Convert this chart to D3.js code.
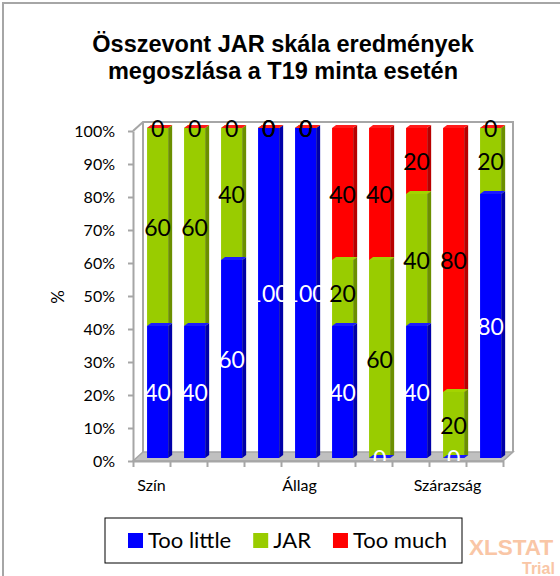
<!DOCTYPE html>
<html>
<head>
<meta charset="utf-8">
<script src="https://cdn.jsdelivr.net/npm/d3@7"></script>
<style>
  body { margin: 0; background: #fff; }
</style>
</head>
<body>
<div id="chart"></div>
<script>
// data
var tickLabels = ["Szín", "", "", "", "Állag", "", "", "", "Szárazság", ""];
var seriesNames = ["Too little", "JAR", "Too much"];
var tooLittle = [40, 40, 60, 100, 100, 40, 0, 40, 0, 80];
var jar = [60, 60, 40, 0, 0, 20, 60, 40, 20, 20];
var tooMuch = [0, 0, 0, 0, 0, 40, 40, 20, 80, 0];
var yTicks = [0, 10, 20, 30, 40, 50, 60, 70, 80, 90, 100];

var colors = {
  "Too little": { front: "#0000ff", side: "#0000a8", top: "#1a1aff", label: "#ffffff" },
  "JAR": { front: "#99cc00", side: "#6b8f00", top: "#a3d400", label: "#000000" },
  "Too much": { front: "#ff0000", side: "#b80000", top: "#ff1a1a", label: "#000000" }
};

var svgWidth = 560;
var svgHeight = 576;
var font = "Lato, 'Open Sans', sans-serif";

var svg = d3.select("#chart")
  .append("svg")
  .attr("width", svgWidth)
  .attr("height", svgHeight);

// chart frame (runs off the right and bottom edges)
svg.append("rect")
  .attr("x", 3).attr("y", 3)
  .attr("width", 640).attr("height", 640)
  .attr("fill", "none")
  .attr("stroke", "#a6a6a6")
  .attr("stroke-width", 2);

// title
var title = svg.append("text")
  .attr("text-anchor", "middle")
  .style("font-family", "'Liberation Sans', Arial, sans-serif")
  .style("font-weight", "bold")
  .style("font-size", "23.5px");
title.append("tspan").attr("x", 283).attr("y", 52).text("Összevont JAR skála eredmények");
title.append("tspan").attr("x", 283).attr("y", 79).text("megoszlása a T19 minta esetén");

// scales
var x = d3.scaleBand().domain(d3.range(tickLabels.length)).range([133, 503]);
var xEdge = d3.scaleLinear().domain([0, tickLabels.length]).range([133, 503]);
var y = d3.scaleLinear().domain([0, 100]).range([461, 131]);

var dx = 10, dy = 9;   // wall depth
var x0 = x.range()[0], x1 = x.range()[1];

// 3d walls + floor
var walls = svg.append("g");
walls.append("polygon")
  .attr("points", [[x0, y(0)], [x1, y(0)], [x1 + dx, y(0) - dy], [x0 + dx, y(0) - dy]].join(" "))
  .attr("fill", "#c0c0c0")
  .attr("stroke", "#a6a6a6")
  .attr("stroke-width", 1.5);
walls.append("path")
  .attr("d", "M" + x0 + "," + y(100) + "L" + (x0 + dx) + "," + (y(100) - dy) +
    "H" + (x1 + dx) + "V" + (y(0) - dy) +
    "M" + (x0 + dx) + "," + (y(100) - dy) + "V" + (y(0) - dy))
  .attr("fill", "none")
  .attr("stroke", "#a6a6a6")
  .attr("stroke-width", 2);

// y axis
var yAxis = svg.append("g")
  .attr("transform", "translate(" + x0 + ",0)")
  .call(d3.axisLeft(y).tickValues(yTicks).tickFormat(d => d + "%").tickSize(5).tickSizeOuter(0).tickPadding(13));
yAxis.select(".domain").attr("stroke", "#a6a6a6").attr("stroke-width", 2);
yAxis.selectAll(".tick line").attr("stroke", "#a6a6a6").attr("stroke-width", 2);
yAxis.selectAll("text").style("font-family", font).style("font-size", "16px").attr("fill", "#000");

// x axis: tick marks on band edges, labels on band centers
var xTicks = svg.append("g")
  .attr("transform", "translate(0," + y(0) + ")")
  .call(d3.axisBottom(xEdge).tickValues(d3.range(tickLabels.length + 1)).tickFormat("").tickSize(6).tickSizeOuter(0));
xTicks.select(".domain").attr("stroke", "#a6a6a6").attr("stroke-width", 2);
xTicks.selectAll(".tick line").attr("stroke", "#a6a6a6").attr("stroke-width", 2);

var xAxis = svg.append("g")
  .attr("transform", "translate(0," + y(0) + ")")
  .call(d3.axisBottom(x).tickFormat(i => tickLabels[i]).tickSize(0).tickPadding(19));
xAxis.select(".domain").remove();
xAxis.selectAll("text").style("font-family", font).style("font-size", "16px").attr("fill", "#000");

// y axis title
svg.append("text")
  .attr("transform", "translate(57,297) rotate(-90)")
  .attr("text-anchor", "middle")
  .attr("dominant-baseline", "central")
  .style("font-family", font)
  .style("font-size", "17px")
  .text("%");

// stacked data
var rows = tickLabels.map(function(t, i) {
  return { idx: i, "Too little": tooLittle[i], "JAR": jar[i], "Too much": tooMuch[i] };
});
var stacked = d3.stack().keys(seriesNames)(rows);

var bw = x.bandwidth();
var barW = bw * 0.57;
var bd = 4, bdy = 3;        // bar depth
function barX(i) { return x(i) + bw * 0.38; }
function yb(v) { return y(v) - 3; }

var clip = svg.append("clipPath").attr("id", "plotclip");
clip.append("rect").attr("x", 0).attr("y", 0).attr("width", svgWidth).attr("height", y(0));

var bars = svg.append("g");
var tops = svg.append("g");

stacked.forEach(function(layer) {
  var c = colors[layer.key];
  var g = bars.append("g");
  g.selectAll("rect")
    .data(layer)
    .enter()
    .append("rect")
    .attr("x", d => barX(d.data.idx))
    .attr("y", d => yb(d[1]))
    .attr("width", barW)
    .attr("height", d => yb(d[0]) - yb(d[1]))
    .attr("fill", c.front);
  g.selectAll("polygon")
    .data(layer)
    .enter()
    .append("polygon")
    .attr("points", function(d) {
      var bx = barX(d.data.idx) + barW;
      return [[bx, yb(d[1])], [bx + bd, yb(d[1]) - bdy], [bx + bd, yb(d[0]) - bdy], [bx, yb(d[0])]].join(" ");
    })
    .attr("fill", c.side);
  tops.append("g").selectAll("polygon")
    .data(layer)
    .enter()
    .append("polygon")
    .attr("points", function(d) {
      var bx = barX(d.data.idx);
      var ty = yb(d[1]);
      return [[bx, ty], [bx + barW, ty], [bx + barW + bd, ty - bdy], [bx + bd, ty - bdy]].join(" ");
    })
    .attr("fill", c.top);
});

// value labels
var labels = svg.append("g").attr("clip-path", "url(#plotclip)");
stacked.forEach(function(layer) {
  labels.append("g").selectAll("text")
    .data(layer)
    .enter()
    .append("text")
    .attr("x", d => barX(d.data.idx) + barW / 2)
    .attr("y", d => yb((d[0] + d[1]) / 2))
    .attr("text-anchor", "middle")
    .attr("dominant-baseline", "central")
    .style("font-family", font)
    .style("font-size", "23px")
    .attr("fill", colors[layer.key].label)
    .text(d => d[1] - d[0]);
});

// legend
var legend = svg.append("g");
legend.append("rect")
  .attr("x", 105).attr("y", 518)
  .attr("width", 357).attr("height", 45)
  .attr("fill", "#fff")
  .attr("stroke", "#000")
  .attr("stroke-width", 1);
var lx = 128;
seriesNames.forEach(function(name) {
  legend.append("rect")
    .attr("x", lx).attr("y", 533)
    .attr("width", 15).attr("height", 15)
    .attr("fill", colors[name].front);
  var t = legend.append("text")
    .attr("x", lx + 20).attr("y", 548)
    .style("font-family", font)
    .style("font-size", "22px")
    .text(name);
  lx = lx + 20 + t.node().getComputedTextLength() + 22;
});

// watermark
svg.append("text")
  .attr("x", 469).attr("y", 555)
  .style("font-family", "'Liberation Sans', Arial, sans-serif")
  .style("font-weight", "bold")
  .style("font-size", "22.5px")
  .attr("fill", "#f9c6a6")
  .text("XLSTAT");
svg.append("text")
  .attr("x", 522).attr("y", 574)
  .style("font-family", "'Liberation Sans', Arial, sans-serif")
  .style("font-weight", "bold")
  .style("font-size", "16px")
  .attr("fill", "#f9c6a6")
  .text("Trial");
</script>
</body>
</html>
